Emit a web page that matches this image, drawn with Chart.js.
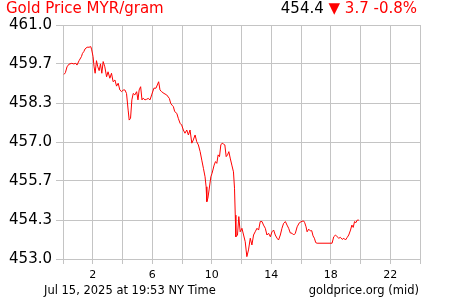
<!DOCTYPE html>
<html>
<head>
<meta charset="utf-8">
<script src="https://cdn.jsdelivr.net/npm/chart.js@4"></script>
<style>
  body { margin: 0; background: #fff; }
  #wrap { position: relative; width: 450px; height: 300px; font-family: "DejaVu Sans", sans-serif; }
  .txt { position: absolute; white-space: nowrap; }
  #title { left: 6px; top: -1px; font-size: 15px; color: #ff0000; }
  #price { right: 33px; top: -1px; font-size: 15px; color: #000; }
  #price .dn { color: #ff0000; }
  #date { left: 44px; top: 283px; font-size: 11.5px; color: #000; }
  #src { right: 31px; top: 283px; font-size: 11.5px; color: #000; }
</style>
</head>
<body>
<div id="wrap">
  <canvas id="myChart" width="450" height="300"></canvas>
  <div class="txt" id="title">Gold Price MYR/gram</div>
  <div class="txt" id="price">454.4 <span class="dn">&#9660; 3.7 -0.8%</span></div>
  <div class="txt" id="date">Jul 15, 2025 at 19:53 NY Time</div>
  <div class="txt" id="src">goldprice.org (mid)</div>
</div>
<script>
let ctx = document.getElementById('myChart')

// hours since midnight (NY time) and price in MYR per gram
const hours = [0.07, 0.16, 0.27, 0.40, 0.59, 0.72, 0.86, 0.94, 1.08, 1.24, 1.31, 1.40, 1.48, 1.62, 1.75, 1.87, 1.93,
  2.02, 2.09, 2.16, 2.25, 2.34, 2.43, 2.52, 2.61, 2.70, 2.81, 2.93, 3.03, 3.15, 3.26, 3.37, 3.49, 3.60, 3.71, 3.82, 3.94,
  4.05, 4.16, 4.27, 4.38, 4.45, 4.54, 4.63, 4.72, 4.83, 4.95, 5.04, 5.12, 5.22, 5.31, 5.39, 5.51, 5.62, 5.73, 5.85, 5.96,
  6.11, 6.25, 6.34, 6.43, 6.52, 6.63, 6.79, 6.97, 7.15, 7.24, 7.33, 7.42, 7.51, 7.65, 7.75, 7.87, 7.98,
  8.09, 8.20, 8.32, 8.43, 8.54, 8.66, 8.76, 8.88, 8.99, 9.10, 9.22, 9.33, 9.44, 9.55, 9.62, 9.67, 9.74, 9.82, 9.94,
  10.02, 10.16, 10.25, 10.34, 10.43, 10.52, 10.61, 10.70, 10.79, 10.88, 10.97, 11.06, 11.15, 11.24, 11.35, 11.46, 11.53, 11.58, 11.62, 11.73, 11.82, 11.91,
  12.03, 12.14, 12.25, 12.36, 12.47, 12.59, 12.70, 12.81, 12.92, 13.04, 13.15, 13.26, 13.38, 13.48, 13.60, 13.71, 13.82, 13.94,
  14.05, 14.16, 14.27, 14.39, 14.49, 14.61, 14.72, 14.83, 14.95, 15.06, 15.17, 15.28, 15.40, 15.51, 15.62, 15.74, 15.89,
  16.07, 16.18, 16.25, 16.34, 16.41, 16.52, 16.63, 16.72, 16.81, 16.90, 16.99, 17.08,
  18.09, 18.20, 18.32, 18.43, 18.54, 18.65, 18.77, 18.88, 18.99, 19.11, 19.21, 19.33, 19.42, 19.51, 19.60, 19.69, 19.78, 19.89]
const prices = [459.31, 459.37, 459.57, 459.66, 459.69, 459.67, 459.69, 459.63, 459.78, 459.92, 460.03, 460.09, 460.18, 460.24, 460.24, 460.26, 460.15,
  459.92, 459.57, 459.35, 459.78, 459.57, 459.44, 459.67, 459.35, 459.75, 459.57, 459.23, 459.40, 459.18, 459.35, 459.06, 459.12, 458.91, 459.01, 458.78, 458.72,
  458.78, 458.78, 458.66, 458.09, 457.75, 457.81, 458.44, 458.66, 458.61, 458.72, 458.44, 458.78, 458.89, 458.44, 458.50, 458.44, 458.46, 458.49, 458.44, 458.61,
  458.84, 458.84, 458.95, 459.06, 458.78, 458.72, 458.66, 458.61, 458.49, 458.32, 458.26, 458.21, 458.04, 457.98, 457.81, 457.64, 457.58,
  457.41, 457.30, 457.41, 457.24, 457.41, 456.96, 457.07, 457.24, 457.01, 456.90, 456.67, 456.38, 456.10, 455.81, 455.47, 454.96, 455.08, 455.36, 455.81,
  455.93, 456.21, 456.33, 456.27, 456.56, 456.50, 456.90, 456.96, 456.93, 456.90, 456.50, 456.56, 456.67, 456.45, 456.21, 455.98, 455.42, 454.50, 453.76, 453.82, 454.45, 453.93,
  454.05, 453.82, 453.59, 453.08, 453.31, 453.71, 453.48, 453.82, 453.93, 454.05, 453.99, 454.28, 454.28, 454.16, 454.05, 453.82, 453.88, 453.76,
  453.93, 453.99, 453.82, 453.71, 453.65, 453.82, 454.05, 454.22, 454.28, 454.16, 454.05, 453.89, 453.88, 453.82, 453.88, 454.10, 454.24,
  454.29, 454.30, 454.24, 454.10, 453.93, 454.02, 453.96, 453.97, 453.79, 453.71, 453.56, 453.54,
  453.54, 453.76, 453.82, 453.76, 453.71, 453.74, 453.67, 453.71, 453.65, 453.74, 453.82, 453.99, 454.16, 454.08, 454.28, 454.24, 454.33, 454.33]

const yTicks = [453, 454.3333, 455.6667, 457, 458.3333, 459.6667, 461]
const xLabels = [2, 6, 10, 14, 18, 22]

const gridColor = '#c4c4c4'
const tickFont = { family: 'DejaVu Sans', size: 15 }

let myChart = new Chart(ctx, {
    type: 'line',
    data: {
        datasets: [{
            label: 'Gold Price MYR/gram',
            data: hours.map((h, i) => ({ x: h, y: prices[i] })),
            borderColor: '#ff0000',
            borderWidth: 1,
            pointRadius: 0,
            tension: 0,
            fill: false,
        }]
    },
    options: {
        responsive: false,
        animation: false,
        layout: { padding: { top: 25, right: 30, left: 0, bottom: 0 } },
        plugins: { legend: { display: false }, tooltip: { enabled: false } },
        scales: {
            x: {
                type: 'linear',
                min: 0,
                max: 24,
                afterFit: s => { s.height = 41 },
                grid: { color: gridColor, tickLength: 5 },
                border: { color: gridColor },
                ticks: {
                    stepSize: 2,
                    autoSkip: false,
                    maxRotation: 0,
                    padding: 5,
                    color: '#000',
                    font: { family: 'DejaVu Sans', size: 11 },
                    callback: v => xLabels.includes(v) ? String(v) : ''
                }
            },
            y: {
                min: 453,
                max: 461,
                afterFit: s => { s.width = 63 },
                afterBuildTicks: s => { s.ticks = yTicks.map(v => ({ value: v })) },
                grid: { color: gridColor, tickLength: 7 },
                border: { color: gridColor },
                ticks: {
                    padding: 4,
                    color: '#000',
                    font: tickFont,
                    callback: v => v.toFixed(1)
                }
            }
        }
    }
})
</script>
</body>
</html>
